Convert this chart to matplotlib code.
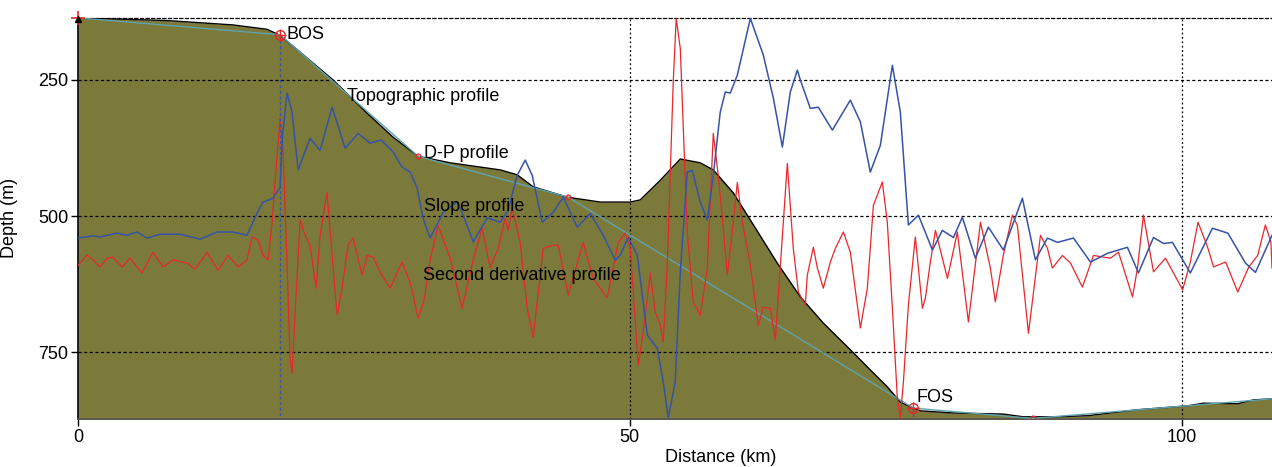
import matplotlib
matplotlib.use("Agg")
import matplotlib.pyplot as plt

plt.rcParams['font.family'] = ['Liberation Sans', 'DejaVu Sans']

# Topographic profile (distance km, depth m)
topo_km = [0.0, 8.07, 14.05, 17.13, 18.31, 23.12, 26.2, 28.56, 30.82, 33.73, 38.26,
           39.8, 41.25, 44.33, 47.33, 50.05, 50.95, 52.77, 54.58, 56.39, 57.57,
           59.38, 60.93, 63.37, 65.46, 67.54, 69.99, 71.8, 73.34, 74.52, 75.7,
           76.34, 79.33, 83.86, 85.67, 88.4, 91.48, 96.01, 100.5, 102.0, 105.1,
           106.5, 108.2]
topo_depth = [136, 141, 149, 157, 168, 250, 311, 355, 390, 402, 415,
              424, 446, 465, 474, 474, 470, 434, 395, 402, 415,
              457, 507, 586, 648, 696, 745, 782, 813, 841, 852,
              857, 861, 863, 868, 868, 866, 855, 848, 843, 844,
              837, 835]

# D-P profile breakpoints
dp_km = [0.0, 18.31, 30.82, 44.4, 75.7, 86.5, 108.2]
dp_depth = [136, 167, 390, 465, 852, 871, 835]

# Slope profile (plotted on depth scale)
slope_km = [0.0, 1.36, 1.99, 3.54, 4.44, 5.35, 6.26, 7.43, 9.25, 11.06, 12.6, 14.05,
            15.32, 16.23, 16.77, 17.68, 18.31, 18.54, 18.95, 19.4, 19.95, 21.03,
            21.94, 23.03, 24.21, 25.39, 26.47, 27.47, 28.56, 29.37, 30.1, 30.73,
            31.28, 31.91, 33.09, 34.36, 34.9, 35.81, 37.08, 38.26, 38.98, 39.8,
            40.53, 41.16, 42.07, 43.06, 43.97, 45.24, 46.42, 47.6, 48.69, 49.14,
            49.86, 50.68, 51.59, 52.49, 53.04, 53.49, 54.12, 54.58, 55.21, 55.67,
            56.39, 57.03, 57.57, 58.2, 58.66, 59.11, 59.75, 60.93, 62.1, 63.01,
            63.83, 64.55, 65.19, 65.46, 66.36, 67.09, 68.36, 69.99, 70.9, 71.8,
            72.71, 73.8, 74.52, 75.25, 76.16, 77.43, 78.33, 79.33, 80.14, 81.32,
            82.5, 83.86, 85.58, 86.76, 87.85, 88.76, 90.21, 91.75, 93.29, 95.1,
            96.1, 97.46, 98.37, 99.18, 100.8, 102.8, 104.2, 105.8, 106.7, 108.2]
slope_val = [540, 536, 538, 531, 535, 529, 540, 533, 533, 542, 529, 529,
             535, 494, 474, 467, 447, 351, 274, 309, 415, 357,
             379, 300, 375, 348, 366, 360, 382, 410, 419, 448,
             504, 540, 493, 474, 498, 547, 503, 511, 489, 425,
             397, 425, 511, 493, 465, 520, 495, 535, 581, 571,
             539, 571, 718, 742, 804, 870, 804, 603, 419, 416,
             474, 507, 425, 309, 272, 274, 241, 137, 204, 283,
             373, 272, 232, 250, 302, 300, 342, 287, 327, 419,
             370, 223, 309, 516, 498, 562, 526, 539, 502, 577,
             520, 562, 467, 580, 540, 548, 540, 584, 568, 557,
             604, 539, 550, 548, 604, 522, 531, 586, 603, 535]

# Second derivative profile (plotted on depth scale)
sd_km = [0.0, 0.82, 1.36, 1.99, 2.63, 3.17, 3.99, 4.71, 5.8, 6.8, 7.71, 8.61,
         9.88, 10.61, 11.7, 12.69, 13.6, 14.51, 15.32, 15.78, 16.32, 16.77,
         17.23, 17.59, 18.04, 18.31, 18.59, 18.95, 19.22, 19.4, 19.67, 20.13,
         20.58, 21.03, 21.58, 21.94, 22.57, 23.03, 23.48, 23.93, 24.48, 24.93,
         25.75, 26.2, 26.75, 27.38, 28.29, 29.37, 30.1, 30.82, 31.37, 31.91,
         32.64, 33.73, 34.81, 35.81, 36.63, 37.35, 38.08, 38.71, 38.98, 39.35,
         40.07, 40.71, 41.25, 42.16, 43.06, 43.52, 44.42, 45.78, 46.69, 47.96,
         48.96, 49.59, 50.05, 50.77, 51.22, 51.86, 52.31, 52.77, 53.04, 53.4,
         53.94, 54.21, 54.58, 55.21, 55.76, 56.39, 57.03, 57.57, 58.02, 58.48,
         58.84, 59.29, 59.75, 60.2, 60.93, 61.65, 62.1, 62.74, 63.19, 63.65,
         64.28, 64.82, 65.28, 65.91, 66.09, 66.64, 67.0, 67.54, 68.18, 68.63,
         69.36, 69.99, 70.63, 70.9, 71.53, 72.08, 72.89, 73.34, 73.8, 74.25,
         74.52, 74.8, 75.25, 75.88, 76.52, 76.79, 77.24, 77.7, 78.79, 79.69,
         80.69, 81.78, 82.68, 83.13, 83.86, 84.68, 85.13, 86.13, 87.22, 87.85,
         88.3, 89.21, 89.94, 91.02, 92.02, 93.56, 94.29, 95.56, 96.01, 96.55,
         97.46, 98.55, 100.1, 100.8, 101.5, 102.4, 102.9, 104.0, 105.1, 106.1,
         106.9, 107.6, 108.1, 108.2]
sd_val = [590, 571, 580, 593, 577, 575, 593, 577, 604, 566, 593, 580,
          586, 597, 566, 599, 572, 593, 580, 538, 544, 572,
          580, 511, 393, 320, 382, 590, 760, 788, 681, 507,
          535, 553, 632, 535, 456, 572, 681, 632, 553, 540,
          608, 572, 575, 603, 632, 584, 621, 687, 654, 580,
          517, 577, 669, 580, 522, 595, 559, 504, 526, 485,
          548, 669, 722, 559, 553, 553, 645, 548, 614, 650,
          548, 531, 559, 773, 713, 604, 676, 700, 731, 590,
          254, 137, 192, 529, 658, 682, 595, 348, 425, 522,
          608, 529, 438, 511, 590, 700, 667, 669, 727, 590,
          403, 559, 639, 663, 608, 557, 595, 632, 584, 559,
          529, 566, 663, 705, 632, 480, 437, 511, 669, 834,
          870, 804, 663, 538, 669, 650, 584, 526, 614, 529,
          694, 511, 595, 657, 571, 498, 517, 715, 535, 559,
          595, 572, 586, 630, 572, 577, 566, 648, 595, 498,
          602, 577, 635, 584, 511, 559, 593, 584, 639, 593,
          572, 516, 547, 595]

bos = (18.31, 167)
fos = (75.7, 852)
dp_marks_km = [30.82, 44.4, 86.5]
dp_marks_depth = [390, 465, 871]

y_top, y_bot = 136, 872
x_max = 108.2

fig = plt.figure(figsize=(12.72, 4.67), dpi=100)
ax = fig.add_axes([0.0613, 0.1028, 0.9387, 0.859])

ax.fill_between(topo_km, topo_depth, y_bot + 10, color='#7c7a3b', zorder=1, linewidth=0)
ax.plot(topo_km, topo_depth, color='black', lw=1.0, zorder=3)
ax.plot(dp_km, dp_depth, color='#5fa3ad', lw=1.0, zorder=4)

# grid
for v in [250, 500, 750]:
    ax.axhline(v, color='black', lw=0.9, ls=(0, (2.5, 2)), zorder=2)
for v in [50, 100]:
    ax.axvline(v, color='black', lw=0.9, ls=(0, (1.5, 2)), zorder=2)

ax.plot(sd_km, sd_val, color='#e8262b', lw=0.9, zorder=5)
ax.plot(slope_km, slope_val, color='#3553a8', lw=1.1, zorder=6)

# BOS / FOS verticals
ax.plot([bos[0], bos[0]], [bos[1], y_bot], color='#3553a8', lw=1.0, ls=(0, (2, 2)), zorder=6)
ax.plot([fos[0], fos[0]], [fos[1], y_bot], color='#3553a8', lw=1.0, ls=(0, (2, 2)), zorder=6)

for p in [bos, fos]:
    ax.plot(p[0], p[1], marker='o', ms=7, mfc='none', mec='#e8262b', mew=1.0, zorder=7)
    ax.plot(p[0], p[1], marker='+', ms=9, mec='#e8262b', mew=1.0, zorder=7)
ax.plot(dp_marks_km, dp_marks_depth, ls='none', marker='o', ms=3.5, mfc='none',
        mec='#e8262b', mew=0.9, zorder=7)
ax.plot(0, y_top, marker='+', ms=10, mec='#e8262b', mew=1.2, clip_on=False, zorder=8)
ax.plot(0, y_top + 3, marker='^', ms=4, color='black', clip_on=False, zorder=8)

fs = 13
ax.text(18.9, 166, 'BOS', fontsize=fs, va='center', ha='left', zorder=9)
ax.text(24.4, 281, 'Topographic profile', fontsize=fs, va='center', ha='left', zorder=9)
ax.text(31.4, 384, 'D-P profile', fontsize=fs, va='center', ha='left', zorder=9)
ax.text(31.4, 483, 'Slope profile', fontsize=fs, va='center', ha='left', zorder=9)
ax.text(31.3, 608, 'Second derivative profile', fontsize=fs, va='center', ha='left', zorder=9)
ax.text(76.0, 832, 'FOS', fontsize=fs, va='center', ha='left', zorder=9)

ax.set_xlim(0, x_max)
ax.set_ylim(y_bot, y_top)
ax.set_xticks([0, 50, 100])
ax.set_yticks([250, 500, 750])
ax.tick_params(labelsize=fs, length=5, width=1, direction='out', pad=2)

ax.set_xlabel('Distance (km)', fontsize=fs)
ax.xaxis.set_label_coords(0.5385, -0.075)
ax.set_ylabel('Depth (m)', fontsize=fs)
ax.yaxis.set_label_coords(-0.05, 0.5)

ax.spines['right'].set_visible(False)
ax.spines['top'].set_linestyle((0, (2.5, 2)))
ax.spines['top'].set_linewidth(0.9)
ax.spines['left'].set_linewidth(1.2)
ax.spines['bottom'].set_color('#555555')
ax.spines['bottom'].set_linewidth(1.2)

fig.savefig('out.png', dpi=100)
